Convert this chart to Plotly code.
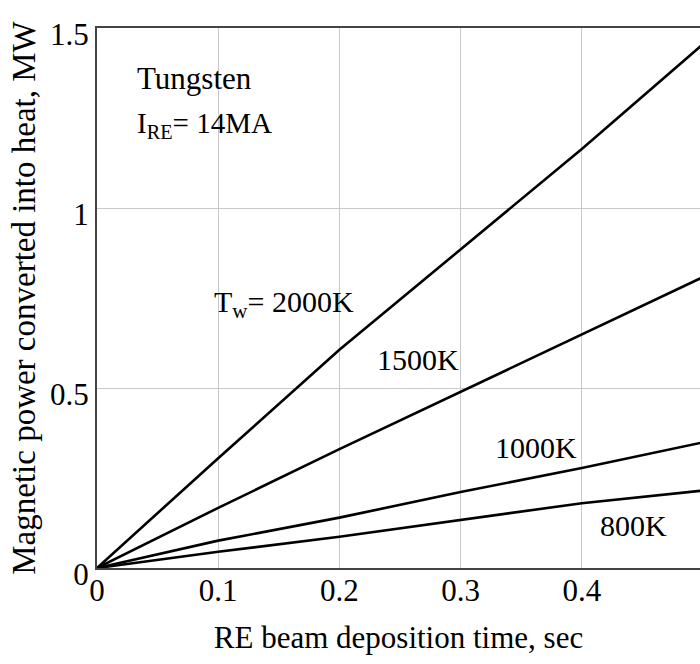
import plotly.graph_objects as go

time_s = [0, 0.1, 0.2, 0.3, 0.4, 0.5]
p_2000K = [0, 0.305, 0.606, 0.886, 1.164, 1.455]
p_1500K = [0, 0.167, 0.33, 0.49, 0.65, 0.808]
p_1000K = [0, 0.076, 0.14, 0.211, 0.278, 0.349]
p_800K = [0, 0.045, 0.087, 0.133, 0.18, 0.215]

x_ticks = [0, 0.1, 0.2, 0.3, 0.4]
x_tick_text = ["0", "0.1", "0.2", "0.3", "0.4"]
y_ticks = [0, 0.5, 1, 1.5]
y_tick_text = ["0", "0.5", "1", "1.5"]

FONT = "Liberation Serif"

fig = go.Figure()
for name, ys in [("2000K", p_2000K), ("1500K", p_1500K), ("1000K", p_1000K), ("800K", p_800K)]:
    fig.add_trace(go.Scatter(x=time_s, y=ys, mode="lines", name=name,
                             line=dict(color="black", width=2.6), showlegend=False))

annots = [
    dict(x=0.031, y=1.361, text="Tungsten", size=31, yanchor="middle"),
    dict(x=0.031, y=1.175, text="I<sub>RE</sub>= 14MA", size=29, yanchor="bottom"),
    dict(x=0.0948, y=0.675, text="T<sub>w</sub>= 2000K", size=30, yanchor="bottom"),
    dict(x=0.229, y=0.578, text="1500K", size=30, yanchor="middle"),
    dict(x=0.3265, y=0.336, text="1000K", size=30, yanchor="middle"),
    dict(x=0.413, y=0.119, text="800K", size=30, yanchor="middle"),
]
for a in annots:
    fig.add_annotation(x=a["x"], y=a["y"], text=a["text"], showarrow=False,
                       xanchor="left", yanchor=a["yanchor"],
                       font=dict(family=FONT, size=a["size"], color="black"))

fig.update_layout(
    width=700, height=664,
    margin=dict(l=97, r=0, t=28, b=96),
    paper_bgcolor="white", plot_bgcolor="white",
    font=dict(family=FONT, size=31, color="black"),
    xaxis=dict(range=[0, 0.4975], tickvals=x_ticks, ticktext=x_tick_text,
               showgrid=True, gridcolor="#c8c8c8", gridwidth=1,
               showline=True, linecolor="#444444", linewidth=2, mirror=True,
               zeroline=False, ticks="", ticklabelstandoff=-6,
               tickfont=dict(family=FONT, size=31),
               title=dict(text="RE beam deposition time, sec", standoff=19,
                          font=dict(family=FONT, size=31))),
    yaxis=dict(range=[0, 1.5], tickvals=y_ticks, ticktext=y_tick_text,
               showgrid=True, gridcolor="#c8c8c8", gridwidth=1,
               showline=True, linecolor="#444444", linewidth=2,
               zeroline=False, ticks="", ticklabelstandoff=0, ticklabelshift=6,
               tickfont=dict(family=FONT, size=31),
               title=dict(text="Magnetic power converted into heat, MW", standoff=4,
                          font=dict(family=FONT, size=33))),
)

fig.write_html("out.html")
